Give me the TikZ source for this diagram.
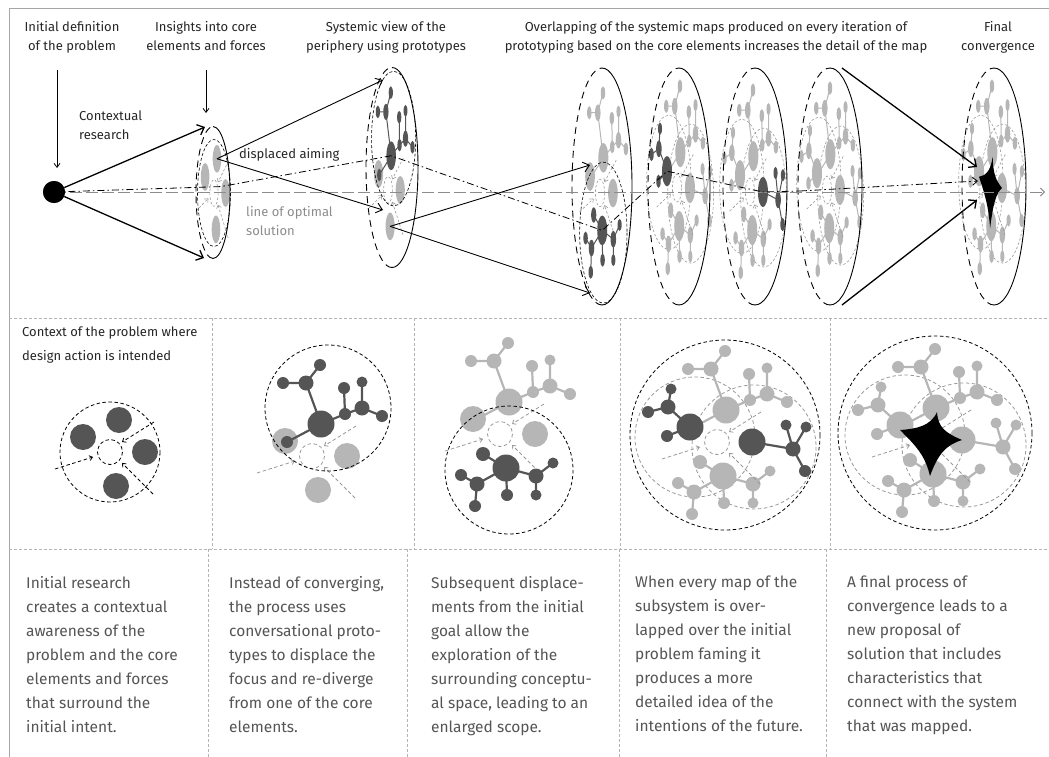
\documentclass[tikz,border=0pt]{standalone}
\usepackage{fontspec}
\setmainfont{Fira Sans}
\usetikzlibrary{arrows.meta}
\definecolor{dk}{HTML}{555555}
\definecolor{lt}{HTML}{B6B6B6}
\definecolor{gd}{HTML}{999999}
\definecolor{framec}{HTML}{A6A6A6}
\definecolor{gridc}{HTML}{B4B4B4}
\definecolor{titlec}{HTML}{262626}
\definecolor{bodyc}{HTML}{555555}
\definecolor{optc}{HTML}{8C8C8C}

% molecules (origin = big node), y axis points down
\newcommand\molT[1]{%
  \draw[molw,#1] (0,0)--(-15,-41)--(-38,-41) (-15,-41)--(-1,-59)
    (0,0)--(24,-10)--(23,-36) (24,-10)--(41,-16)--(41,-42) (41,-16)--(61,-8) (0,0)--(-34,18);
  \fill[#1] (0,0) circle (13.5) (-15,-41) circle (7.5) (-38,-41) circle (6) (-1,-59) circle (6)
    (24,-10) circle (6) (23,-36) circle (6) (41,-16) circle (7.5) (41,-42) circle (5.5)
    (61,-8) circle (6) (-34,18) circle (6);}
\newcommand\molB[1]{%
  \draw[molw,#1] (0,0)--(-29,16)--(-45,7) (-29,16)--(-31,38) (0,0)--(-23,-14) (0,0)--(1,27)
    (0,0)--(30,8)--(47,-5) (30,8)--(30,27);
  \fill[#1] (0,0) circle (13.5) (-29,16) circle (7.5) (-45,7) circle (6) (-31,38) circle (6)
    (-23,-14) circle (7) (1,27) circle (6) (30,8) circle (7.5) (47,-5) circle (5.5) (30,27) circle (5.5);}
\newcommand\molL[1]{%
  \draw[molw,#1] (0,0)--(-22,-20)--(-42,-15) (-22,-20)--(-19,-38) (0,0)--(-23,9);
  \fill[#1] (0,0) circle (13.5) (-22,-20) circle (7.5) (-42,-15) circle (6) (-19,-38) circle (5.5) (-23,9) circle (6);}
\newcommand\molR[1]{%
  \draw[molw,#1] (0,0)--(41,7)--(34,-17) (41,7)--(54,-15) (41,7)--(53,29);
  \fill[#1] (0,0) circle (13.5) (41,7) circle (7.5) (34,-17) circle (5.5) (54,-15) circle (5.5) (53,29) circle (6);}
% inner circle and forces (origin = inner core)
\newcommand\forces[1]{%
  \draw[#1] (0,0) circle (12.5);
  \draw[#1,ftip] (-55,17)--(-17,5);
  \draw[#1,ftip] (44,-30)--(12,-10);
  \draw[#1,ftip] (43,42)--(12,11);}
\newcommand\panelone[2]{%
  \draw[bdash] (0,0) circle (50);
  \fill[#1] (9,-32) circle (13) (-27,-15) circle (13) (35,0) circle (13) (6,34) circle (13);
  \forces{#2}}
\newcommand\paneltwo{%
  \fill[lt] (-27,-15) circle (13) (35,0) circle (13) (6,34) circle (13);
  \forces{gdash}
  \begin{scope}[shift={(9,-32)}]\molT{dk}\end{scope}
  \draw[bdash] (16,-48) circle (63);}
\newcommand\panelthree{%
  \begin{scope}[shift={(9,-32)}]\molT{lt}\end{scope}
  \fill[lt] (-27,-15) circle (13) (35,0) circle (13);
  \forces{gdash}
  \begin{scope}[shift={(6,34)}]\molB{dk}\end{scope}
  \draw[bdash] (9,36) circle (64);}
\newcommand\fullmap[4]{%
  \draw[gdash] (-22,-5) circle (60);
  \draw[gdash] (37,5) circle (62);
  \begin{scope}[shift={(9,-32)}]\molT{#1}\end{scope}
  \begin{scope}[shift={(6,34)}]\molB{#4}\end{scope}
  \begin{scope}[shift={(-27,-15)}]\molL{#2}\end{scope}
  \begin{scope}[shift={(35,0)}]\molR{#3}\end{scope}
  \forces{gdash}}
\newcommand\starmark{%
  \fill[black] (10,-28) .. controls (11,-12) and (19,-7) .. (35,0)
    .. controls (19,5) and (11,14) .. (3,36)
    .. controls (-2,15) and (-11,6) .. (-27,-10)
    .. controls (-11,-11) and (4,-14) .. (10,-28) -- cycle;
  \fill[black] (3,-2) circle (10);}
\newcommand\drawdisk[4]{%
  \draw[diskdash] (#1,#2+#4) arc[start angle=90,end angle=270,x radius=#3,y radius=#4];
  \draw[disksolid] (#1,#2-#4) arc[start angle=-90,end angle=90,x radius=#3,y radius=#4];}

\begin{document}
\begin{tikzpicture}[x=1pt,y=-1pt,
  molw/.style={line width=2.2pt},
  bdash/.style={draw=black,line width=0.8pt,dash pattern=on 3.5pt off 2.5pt},
  gdash/.style={draw=gd,line width=0.8pt,dash pattern=on 3.5pt off 2.5pt},
  ftip/.style={-{Straight Barb[length=3pt,width=5pt]}},
  dsk/.style={molw/.style={line width=1pt},
    bdash/.style={draw=black,line width=0.6pt,dash pattern=on 3pt off 2pt},
    gdash/.style={draw=gd,line width=0.6pt,dash pattern=on 2.5pt off 2pt}},
  diskdash/.style={draw=black,line width=0.9pt,dash pattern=on 7pt off 5pt},
  disksolid/.style={draw=black,line width=0.9pt},
  grid/.style={draw=gridc,line width=0.8pt,dash pattern=on 3pt off 2pt},
  bigarrow/.style={draw=black,line width=1.3pt,-{Straight Barb[length=6pt,width=11pt]}},
  thinarrow/.style={draw=black,line width=0.9pt,-{Straight Barb[length=6pt,width=10pt]}},
  varrow/.style={draw=black,line width=0.8pt,-{Straight Barb[length=4pt,width=6pt]}},
  dashdot/.style={draw=black,line width=0.8pt,dash pattern=on 7pt off 3pt on 1.5pt off 3pt},
  optline/.style={draw=optc,line width=1pt,dash pattern=on 12pt off 4pt,-{Straight Barb[length=4pt,width=8pt]}},
  title/.style={text=titlec,font=\fontsize{13}{19}\selectfont,align=center,anchor=north,inner sep=0pt},
  lab/.style={text=titlec,font=\fontsize{13}{19}\selectfont,align=left,anchor=north west,inner sep=0pt},
  body/.style={text=bodyc,font=\fontsize{15.5}{24}\selectfont,align=left,anchor=north west,inner sep=0pt}]
\useasboundingbox (0,0) rectangle (1049,757);
% frame and grid
\draw[framec,line width=1pt] (1049,9) -- (9,9) -- (9,757);
\draw[grid] (9,318) -- (1049,318);
\draw[grid] (9,549) -- (1049,549);
\foreach \xx in {212,414,620,830} \draw[grid] (\xx,318) -- (\xx,549);
\foreach \xx in {208,407,619,826} \draw[grid] (\xx,549) -- (\xx,757);

% titles
\node[title] (t1) at (72,21) {Initial definition\\of the problem};
\node[title] (t2) at (206,21) {Insights into core\\elements and forces};
\node[title] (t3) at (386,21) {Systemic view of the\\periphery using prototypes};
\node[title] (t4) at (716,21) {Overlapping of the systemic maps produced on every iteration of\\prototyping based on the core elements increases the detail of the map};
\node[title] (t5) at (998,21) {Final\\convergence};

% ---------- top disks: contents ----------
\begin{scope}[dsk,shift={(214,193)},xscale=0.33,yscale=1.07]
  \panelone{lt}{gdash}
  \coordinate (c1T) at (9,-32);
  \coordinate (c1p) at (21,-6);
\end{scope}
\begin{scope}[dsk,shift={(388,190)},xscale=0.35,yscale=1.07]
  \paneltwo
  \coordinate (cAT) at (9,-32);
  \coordinate (cAB) at (6,34);
\end{scope}
\begin{scope}[dsk,shift={(600,193)},xscale=0.37,yscale=1.1]
  \panelthree
  \coordinate (cBB) at (6,34);
\end{scope}
\begin{scope}[dsk,shift={(677,188)},xscale=0.37,yscale=1.12]
  \fullmap{lt}{dk}{lt}{lt}
  \coordinate (cCL) at (-27,-15);
\end{scope}
\begin{scope}[dsk,shift={(750,192)},xscale=0.37,yscale=1.12]
  \fullmap{lt}{lt}{dk}{lt}
  \coordinate (cDR) at (35,0);
\end{scope}
\begin{scope}[dsk,shift={(827,190)},xscale=0.37,yscale=1.12]
  \fullmap{lt}{lt}{lt}{lt}
\end{scope}
\begin{scope}[dsk,shift={(989,188)},xscale=0.37,yscale=1.12]
  \fullmap{lt}{lt}{lt}{lt}
  \starmark
\end{scope}

% disk outlines
\drawdisk{213}{192.5}{17}{66}
\drawdisk{392}{167.5}{26}{100}
\drawdisk{602}{186.5}{30}{118.5}
\drawdisk{679}{186.5}{31}{118.5}
\drawdisk{755}{186.5}{32}{118.5}
\drawdisk{830}{186.5}{32}{118.5}
\drawdisk{994}{186.5}{32}{118.5}

% optimal solution line
\coordinate (optend) at (1045,192);
\node[circle,fill=black,minimum size=22pt,inner sep=0pt] (dot) at (54,192) {};
\draw[optline] (dot.center) -- (optend);
\node[circle,fill=black,minimum size=22pt,inner sep=0pt] at (dot) {};

% displaced aiming path
\coordinate (tipF) at (978,181);
\coordinate (p6) at (800,191);
\draw[dashdot] (dot.center) -- (c1p) -- (cAT) -- (cBB) -- (cCL) -- (cDR) -- (p6);
\draw[dashdot,-{Straight Barb[length=5pt,width=8pt]}] (p6) -- (tipF);

% arrows
\coordinate (d1t) at (205,127);
\coordinate (d1b) at (204,258);
\draw[bigarrow] (dot) -- (d1t);
\draw[bigarrow] (dot) -- (d1b);
\coordinate (aT) at (383,80);
\coordinate (aB) at (383,210);
\draw[thinarrow] (c1T) -- (aT);
\draw[thinarrow] (c1T) -- (aB);
\coordinate (bT) at (590,165);
\coordinate (bB) at (590,293);
\draw[thinarrow] (cAB) -- (bT);
\draw[thinarrow] (cAB) -- (bB);
\coordinate (eT) at (842,68);
\coordinate (eB) at (842,305);
\coordinate (fT) at (977,167);
\coordinate (fB) at (977,200);
\draw[bigarrow] (eT) -- (fT);
\draw[bigarrow] (eB) -- (fB);

% vertical arrows
\coordinate (v1s) at (57,70);
\coordinate (v1e) at (57,168);
\coordinate (v2s) at (206,70);
\coordinate (v2e) at (206,113);
\draw[varrow] (v1s) -- (v1e);
\draw[varrow] (v2s) -- (v2e);

% labels
\node[lab] (lctx) at (79,111) {Contextual\\research};
\node[lab,anchor=base west] (ldisp) at (239,158) {displaced aiming};
\node[lab,text=optc] (lopt) at (246,206) {line of optimal\\solution};

% ---------- middle row panels ----------
\node[lab,font=\fontsize{13}{23.5}\selectfont] (lcontext) at (22,327) {Context of the problem where\\design action is intended};
\begin{scope}[shift={(110,452)}]
  \panelone{dk}{bdash}
\end{scope}
\begin{scope}[shift={(312,456)}]
  \paneltwo
\end{scope}
\begin{scope}[shift={(500,434)}]
  \panelthree
\end{scope}
\begin{scope}[shift={(717,442)}]
  \fullmap{lt}{dk}{dk}{lt}
  \draw[bdash] (8,-7) circle (95);
\end{scope}
\begin{scope}[shift={(927,440)}]
  \fullmap{lt}{lt}{lt}{lt}
  \starmark
  \draw[bdash] (8,-7) circle (97);
\end{scope}

% ---------- bottom text ----------
\node[body] (b1) at (26,576) {Initial research\\creates a contextual\\awareness of the\\problem and the core\\elements and forces\\that surround the\\initial intent.};
\node[body] (b2) at (229,576) {Instead of converging,\\the process uses\\conversational proto-\\types to displace the\\focus and re-diverge\\from one of the core\\elements.};
\node[body] (b3) at (431,576) {Subsequent displace-\\ments from the initial\\goal allow the\\exploration of the\\surrounding conceptu-\\al space, leading to an\\enlarged scope.};
\node[body] (b4) at (635,576) {When every map of the\\subsystem is over-\\lapped over the initial\\problem faming it\\produces a more\\detailed idea of the\\intentions of the future.};
\node[body] (b5) at (847,576) {A final process of\\convergence leads to a\\new proposal of\\solution that includes\\characteristics that\\connect with the system\\that was mapped.};
\end{tikzpicture}
\end{document}
